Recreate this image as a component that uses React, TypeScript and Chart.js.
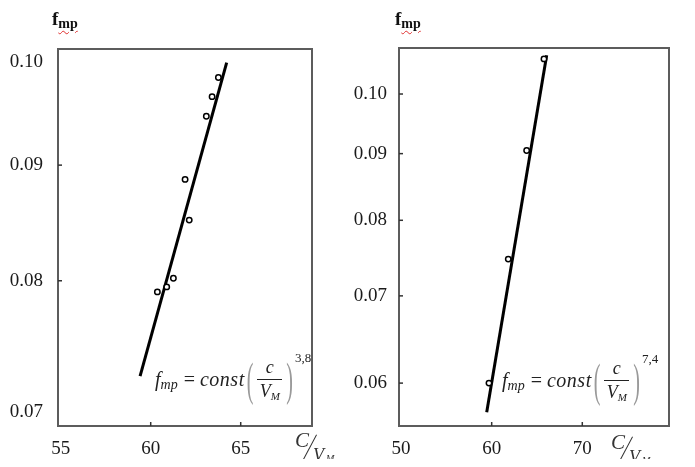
import React, { useEffect, useRef } from "react";
import { Chart, registerables } from "chart.js";

Chart.register(...registerables);

// ---- Data ----
const leftPointsX = [60.37, 60.89, 61.26, 62.14, 61.91, 63.09, 63.41, 63.76];
const leftPointsY = [0.0791, 0.0795, 0.0802, 0.0851, 0.0887, 0.0946, 0.0965, 0.0984];
const leftFitX = [59.41, 64.22];
const leftFitY = [0.0726, 0.0999];
const leftXTicks = [55, 60, 65];
const leftYTicks = [0.07, 0.08, 0.09, 0.1];
const leftXTickMarks = [60, 65];
const leftYTickMarks = [0.08, 0.09];

const rightPointsX = [59.7, 61.83, 63.86, 65.77];
const rightPointsY = [0.06, 0.0747, 0.0905, 0.1064];
const rightFitX = [59.45, 66.07];
const rightFitY = [0.057, 0.1071];
const rightXTicks = [50, 60, 70];
const rightYTicks = [0.06, 0.07, 0.08, 0.09, 0.1];
const rightXTickMarks = [60, 70];
const rightYTickMarks = [0.06, 0.07, 0.08, 0.09, 0.1];

const SERIF = '"Liberation Serif", "Times New Roman", serif';

type PanelCfg = {
  px: number[];
  py: number[];
  fx: number[];
  fy: number[];
  xTicks: number[];
  yTicks: number[];
  xMarks: number[];
  yMarks: number[];
  xMin: number;
  xMax: number;
  yMin: number;
  yMax: number;
  yWidth: number;
  yPad: number;
  padTop: number;
  padRight: number;
  width: number;
};

function Panel({ cfg, left }: { cfg: PanelCfg; left: number }) {
  const ref = useRef<HTMLCanvasElement | null>(null);
  useEffect(() => {
    if (!ref.current) return;
    const frame = {
      id: "frame",
      afterDraw(chart: any) {
        const { ctx, chartArea: a } = chart;
        ctx.save();
        ctx.strokeStyle = "#5c5c5c";
        ctx.lineWidth = 2;
        ctx.strokeRect(a.left, a.top, a.right - a.left, a.bottom - a.top);
        ctx.strokeStyle = "#333";
        ctx.lineWidth = 1.5;
        for (const v of cfg.yMarks) {
          const y = chart.scales.y.getPixelForValue(v);
          ctx.beginPath();
          ctx.moveTo(a.left, y);
          ctx.lineTo(a.left + 4, y);
          ctx.stroke();
        }
        for (const v of cfg.xMarks) {
          const x = chart.scales.x.getPixelForValue(v);
          ctx.beginPath();
          ctx.moveTo(x, a.bottom);
          ctx.lineTo(x, a.bottom - 4);
          ctx.stroke();
        }
        ctx.restore();
      },
    };
    const chart = new Chart(ref.current, {
      type: "scatter",
      data: {
        datasets: [
          {
            data: cfg.px.map((x, i) => ({ x, y: cfg.py[i] })),
            pointRadius: 2.7,
            borderWidth: 1.5,
            borderColor: "#000",
            backgroundColor: "#fff",
            pointBackgroundColor: "#fff",
            order: 0,
          } as any,
          {
            data: cfg.fx.map((x, i) => ({ x, y: cfg.fy[i] })),
            showLine: true,
            borderColor: "#000",
            borderWidth: 3,
            pointRadius: 0,
            order: 1,
          } as any,
        ],
      },
      options: {
        animation: false,
        responsive: false,
        devicePixelRatio: 1,
        layout: { padding: { top: cfg.padTop, right: cfg.padRight, left: 0, bottom: 0 } },
        plugins: { legend: { display: false }, tooltip: { enabled: false } },
        scales: {
          x: {
            type: "linear",
            min: cfg.xMin,
            max: cfg.xMax,
            afterBuildTicks: (s: any) => {
              s.ticks = cfg.xTicks.map((v) => ({ value: v }));
            },
            afterFit: (s: any) => {
              s.height = 41;
            },
            grid: { display: false, drawTicks: false },
            border: { display: false },
            ticks: {
              padding: 12,
              color: "#1a1a1a",
              font: { family: SERIF, size: 19 },
              callback: (v: any) => String(v),
              maxRotation: 0,
            },
          },
          y: {
            type: "logarithmic",
            min: cfg.yMin,
            max: cfg.yMax,
            afterBuildTicks: (s: any) => {
              s.ticks = cfg.yTicks.map((v) => ({ value: v }));
            },
            afterFit: (s: any) => {
              s.width = cfg.yWidth;
            },
            grid: { display: false, drawTicks: false },
            border: { display: false },
            ticks: {
              padding: cfg.yPad,
              color: "#1a1a1a",
              font: { family: SERIF, size: 19 },
              callback: (v: any) => Number(v).toFixed(2),
            },
          },
        },
      },
      plugins: [frame],
    } as any);
    return () => chart.destroy();
  }, [cfg]);
  return (
    <canvas
      ref={ref}
      width={cfg.width}
      height={467}
      style={{ position: "absolute", left, top: 0, width: cfg.width, height: 467 }}
    />
  );
}

const leftCfg: PanelCfg = {
  px: leftPointsX,
  py: leftPointsY,
  fx: leftFitX,
  fy: leftFitY,
  xTicks: leftXTicks,
  yTicks: leftYTicks,
  xMarks: leftXTickMarks,
  yMarks: leftYTickMarks,
  xMin: 54.85,
  xMax: 68.96,
  yMin: 0.06942,
  yMax: 0.1013,
  yWidth: 58,
  yPad: 15,
  padTop: 49,
  padRight: 33,
  width: 345,
};

const rightCfg: PanelCfg = {
  px: rightPointsX,
  py: rightPointsY,
  fx: rightFitX,
  fy: rightFitY,
  xTicks: rightXTicks,
  yTicks: rightYTicks,
  xMarks: rightXTickMarks,
  yMarks: rightYTickMarks,
  xMin: 49.77,
  xMax: 79.57,
  yMin: 0.05562,
  yMax: 0.10847,
  yWidth: 54,
  yPad: 12,
  padTop: 48,
  padRight: 26,
  width: 350,
};

function Title({ left }: { left: number }) {
  return (
    <div
      style={{
        position: "absolute",
        left,
        top: 9,
        fontFamily: SERIF,
        fontWeight: "bold",
        color: "#111",
        lineHeight: 1,
        whiteSpace: "nowrap",
      }}
    >
      <span style={{ fontSize: 19 }}>f</span>
      <span
        style={{
          fontSize: 14,
          position: "relative",
          top: 3,
          textDecoration: "underline wavy #e03030",
          textDecorationThickness: "1px",
          textUnderlineOffset: "2px",
        }}
      >
        mp
      </span>
    </div>
  );
}

function Formula({ left, top, exp }: { left: number; top: number; exp: string }) {
  const paren = {
    display: "inline-block",
    fontSize: 20,
    color: "#9a9a9a",
    transform: "scale(1, 2.3)",
    fontStyle: "normal" as const,
  };
  return (
    <div
      style={{
        position: "absolute",
        left,
        top,
        height: 46,
        display: "flex",
        alignItems: "center",
        fontFamily: SERIF,
        fontSize: 20,
        color: "#222",
        whiteSpace: "nowrap",
        lineHeight: 1,
      }}
    >
      <span style={{ fontStyle: "italic" }}>f</span>
      <span style={{ fontStyle: "italic", fontSize: 14, position: "relative", top: 6 }}>mp</span>
      <span style={{ margin: "0 5px 0 6px" }}>=</span>
      <span style={{ fontStyle: "italic", letterSpacing: 0.5 }}>const</span>
      <span style={{ ...paren, margin: "0 4px 0 2px" }}>(</span>
      <span style={{ display: "inline-flex", flexDirection: "column", alignItems: "center" }}>
        <span style={{ fontStyle: "italic", fontSize: 18 }}>c</span>
        <span style={{ borderTop: "1px solid #222", width: 25, margin: "3px 0 2px" }} />
        <span style={{ fontStyle: "italic", fontSize: 18 }}>
          V<span style={{ fontSize: 11, position: "relative", top: 3 }}>M</span>
        </span>
      </span>
      <span style={{ ...paren, margin: "0 2px 0 4px" }}>)</span>
      <span style={{ fontSize: 13, position: "relative", top: -22 }}>{exp}</span>
    </div>
  );
}

function AxisTitle({ left, top }: { left: number; top: number }) {
  return (
    <div style={{ position: "absolute", left, top, width: 45, height: 36, fontFamily: SERIF, color: "#333", lineHeight: 1 }}>
      <span style={{ position: "absolute", left: 0, top: 0, fontSize: 21, fontStyle: "italic" }}>C</span>
      <span
        style={{
          position: "absolute",
          left: 14,
          top: 3,
          width: 1.3,
          height: 30,
          background: "#333",
          transform: "rotate(28deg)",
        }}
      />
      <span style={{ position: "absolute", left: 18, top: 16, fontSize: 18, fontStyle: "italic" }}>V</span>
      <span style={{ position: "absolute", left: 31, top: 24, fontSize: 10, fontStyle: "italic" }}>M</span>
    </div>
  );
}

export default function App() {
  return (
    <div style={{ position: "relative", width: 695, height: 467, margin: -8, overflow: "hidden", background: "#fff" }}>
      <Panel cfg={leftCfg} left={0} />
      <Panel cfg={rightCfg} left={345} />
      <Title left={52} />
      <Title left={395} />
      <Formula left={155} top={356} exp="3,8" />
      <Formula left={502} top={357} exp="7,4" />
      <AxisTitle left={295} top={430} />
      <AxisTitle left={611} top={432} />
    </div>
  );
}
